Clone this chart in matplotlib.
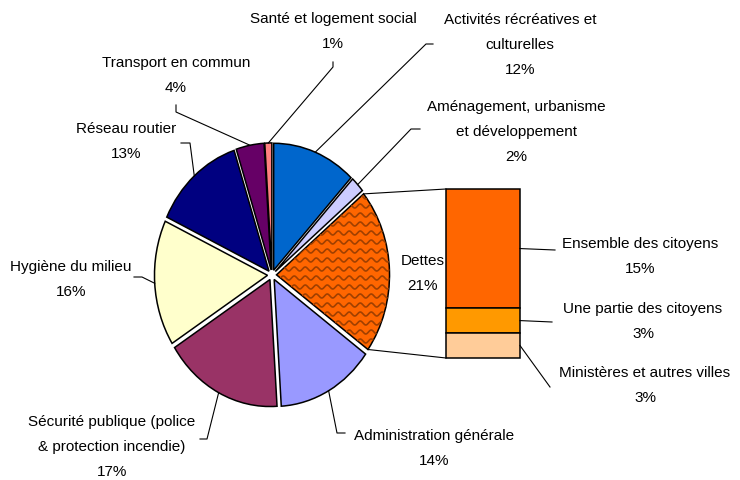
import numpy as np
import matplotlib
matplotlib.use("Agg")
import matplotlib.pyplot as plt

plt.rcParams['font.family'] = ['Liberation Sans', 'DejaVu Sans']

# pie slices, clockwise from the top
postes = ["Activités récréatives et\nculturelles",
          "Aménagement, urbanisme\net développement",
          "Dettes",
          "Administration générale",
          "Sécurité publique (police\n& protection incendie)",
          "Hygiène du milieu",
          "Réseau routier",
          "Transport en commun",
          "Santé et logement social"]
parts = [12, 2, 21, 14, 17, 16, 13, 4, 1]
couleurs = ["#0066CC", "#CCCCFF", "#FF6600", "#9999FF", "#993366",
            "#FFFFCC", "#000080", "#660066", "#FF8080"]

# breakdown of the debt
dettes_noms = ["Ensemble des citoyens", "Une partie des citoyens",
               "Ministères et autres villes"]
dettes_parts = [14.8, 3.1, 3.1]
dettes_couleurs = ["#FF6600", "#FF9900", "#FFCC99"]

W, H = 740, 481
fig = plt.figure(figsize=(W / 100, H / 100), dpi=100)

# pie axes (slightly squashed horizontally like the original)
cx, cy, rx, ry = 272, 276, 113, 127
lim = 1.25
ax = fig.add_axes([(cx - lim * rx) / W, (H - cy - lim * ry) / H,
                   2 * lim * rx / W, 2 * lim * ry / H])
wedges, _ = ax.pie(parts, colors=couleurs, startangle=90, counterclock=False,
                   explode=[0.04] * len(parts),
                   wedgeprops=dict(edgecolor="black", linewidth=1.1))
ax.set_aspect("auto")
ax.set_xlim(-lim, lim)
ax.set_ylim(-lim, lim)
ax.axis("off")

# stacked bar for the debt
bx = fig.add_axes([446 / W, (H - 359) / H, 74 / W, 169 / H])
bottoms = np.cumsum([0] + dettes_parts[::-1])[:-1][::-1]
bars = bx.bar(0, dettes_parts, bottom=bottoms, width=1, color=dettes_couleurs,
              edgecolor="black", linewidth=1.1, clip_on=False)
bx.set_xlim(-0.5, 0.5)
bx.set_ylim(0, sum(dettes_parts))
bx.axis("off")

# overlay in image pixel coordinates for labels and leader lines
ov = fig.add_axes([0, 0, 1, 1])
ov.set_xlim(0, W)
ov.set_ylim(H, 0)
ov.axis("off")
ov.patch.set_alpha(0)


def to_ov(axes, pt):
    return ov.transData.inverted().transform(axes.transData.transform(pt))


def wedge_pt(w, ang):
    a = np.deg2rad(ang)
    return to_ov(ax, (w.center[0] + w.r * np.cos(a), w.center[1] + w.r * np.sin(a)))


# wavy hatch on the debt slice
dw = wedges[2]
xs = np.linspace(260, 400, 400)
for y0 in np.arange(180, 370, 9):
    ln, = ov.plot(xs, y0 + 2.0 * np.sin(2 * np.pi * xs / 11), color="#A04000", lw=1.2)
    ln.set_clip_path(dw)

fs = 11
ls = 2.0

# label text position (block centre) and elbow of leader line, per slice
lab_pos = [(520, 45), (516, 132), None, (434, 449), (112, 447),
           (71, 280), (126, 142), (176, 76), (333, 32)]
elbows = [[(433, 45), (426, 45)],
          [(420, 130), (411, 130)],
          None,
          [(345, 434), (337, 434)],
          [(200, 440), (207, 440)],
          [(134, 278), (142, 278)],
          [(181, 144), (190, 144)],
          [(176, 106), (176, 113)],
          [(333, 63), (333, 68)]]

for i, w in enumerate(wedges):
    if lab_pos[i] is None:
        continue
    txt = f"{postes[i]}\n{parts[i]:.0f}%"
    ov.text(*lab_pos[i], txt, ha="center", va="center", fontsize=fs,
            linespacing=ls)
    mid = (w.theta1 + w.theta2) / 2
    e = wedge_pt(w, mid)
    pts = np.array(elbows[i] + [tuple(e)])
    ov.plot(pts[:, 0], pts[:, 1], color="black", lw=0.8)

ov.text(423, 274, f"{postes[2]}\n{parts[2]}%", ha="center", va="center",
        fontsize=fs, linespacing=ls)

# connection lines between debt slice and bar
p_top = wedge_pt(dw, dw.theta2)
p_bot = wedge_pt(dw, dw.theta1)
b_top = to_ov(bx, (-0.5, sum(dettes_parts)))
b_bot = to_ov(bx, (-0.5, 0))
ov.plot([p_top[0], b_top[0]], [p_top[1], b_top[1]], color="black", lw=0.8)
ov.plot([p_bot[0], b_bot[0]], [p_bot[1], b_bot[1]], color="black", lw=0.8)

# bar labels
bar_lab = [(640, 257), (643, 322), (645, 386)]
bar_elb = [(555, 251), (552, 323), (550, 388)]
for i, name in enumerate(dettes_noms):
    ov.text(*bar_lab[i], f"{name}\n{dettes_parts[i]:.0f}%", ha="center",
            va="center", fontsize=fs, linespacing=ls)
    s = to_ov(bx, (0.5, bottoms[i] + dettes_parts[i] / 2))
    ov.plot([s[0], bar_elb[i][0]], [s[1], bar_elb[i][1]], color="black", lw=0.8)

fig.savefig("out.png", dpi=100)
